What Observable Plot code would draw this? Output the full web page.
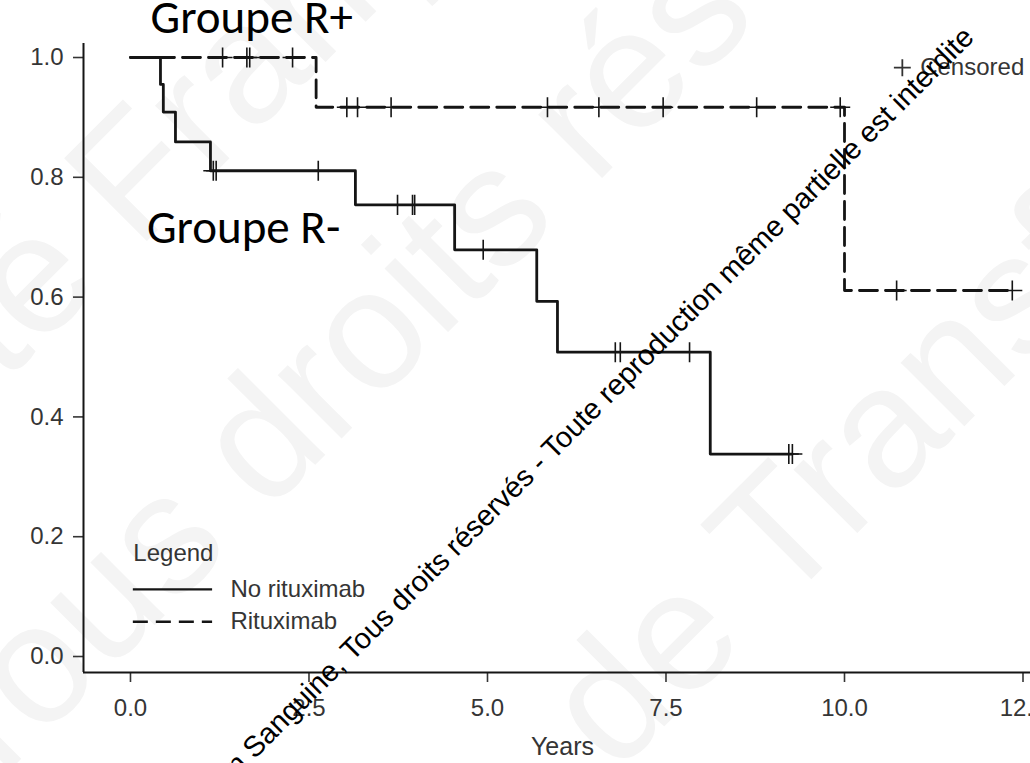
<!DOCTYPE html>
<html>
<head>
<meta charset="utf-8">
<script src="https://cdn.jsdelivr.net/npm/d3@7"></script>
<script src="https://cdn.jsdelivr.net/npm/@observablehq/plot@0.6"></script>
<style>
  html, body { margin: 0; padding: 0; background: #fff; overflow: hidden; }
</style>
</head>
<body>
<div id="chart"></div>
<script>
// ---- Data (Kaplan–Meier estimates) ----
const seriesNames = ["No rituximab", "Rituximab"];

// No rituximab (solid): step points
const noRitTime = [0, 0.42, 0.46, 0.63, 1.12, 3.15, 4.54, 5.69, 5.98, 8.12, 9.27];
const noRitSurv = [1.0, 0.955, 0.909, 0.859, 0.811, 0.754, 0.679, 0.593, 0.508, 0.338, 0.338];
// No rituximab censored observations
const noRitCensTime = [1.16, 1.20, 2.63, 3.74, 3.95, 3.98, 4.94, 6.79, 6.86, 7.83, 9.22, 9.27];
const noRitCensSurv = [0.811, 0.811, 0.811, 0.754, 0.754, 0.754, 0.679, 0.508, 0.508, 0.508, 0.338, 0.338];

// Rituximab (dashed): step points
const ritTime = [0, 2.60, 10.0, 12.35];
const ritSurv = [1.0, 0.917, 0.611, 0.611];
// Rituximab censored observations
const ritCensTime = [1.29, 1.63, 1.67, 2.27, 3.03, 3.18, 3.65, 5.84, 6.56, 7.46, 8.77, 9.94, 10.73, 12.35];
const ritCensSurv = [1.0, 1.0, 1.0, 1.0, 0.917, 0.917, 0.917, 0.917, 0.917, 0.917, 0.917, 0.917, 0.611, 0.611];

// Axis ticks
const xTicks = [0, 2.5, 5, 7.5, 10, 12.5];
const yTicks = [0, 0.2, 0.4, 0.6, 0.8, 1.0];

// Annotation texts
const groupLabels = ["Groupe R+", "Groupe R-"];
const censoredLabel = "Censored";
const legendTitle = "Legend";
const xLabel = "Years";
const watermarkLines = ["Société Française", "Tous droits réservés", "de Transfusion"];
const diagonalNotice = "© Société Française de Transfusion Sanguine, Tous droits réservés - Toute reproduction même partielle est interdite";

// ---- Tables built from the arrays ----
const noRit = noRitTime.map((t, i) => ({t, s: noRitSurv[i]}));
const rit = ritTime.map((t, i) => ({t, s: ritSurv[i]}));
const noRitCens = noRitCensTime.map((t, i) => ({t, s: noRitCensSurv[i]}));
const ritCens = ritCensTime.map((t, i) => ({t, s: ritCensSurv[i]}));

const xMin = -0.658, xMax = 12.605;
const yMin = -0.0267, yMax = 1.0234;
const ink = "#151515";
const sans = "'Liberation Sans', Arial, Helvetica, sans-serif";
const calibriLike = "Carlito, Calibri, Lato, sans-serif";
const dash = "18,8";
const wm = "#f4f4f4";

const chart = Plot.plot({
  width: 1030,
  height: 763,
  marginLeft: 83,
  marginRight: 0,
  marginTop: 43,
  marginBottom: 91,
  x: {domain: [xMin, xMax]},
  y: {domain: [yMin, yMax]},
  style: {fontFamily: sans, color: "#353535", background: "#fff", overflow: "visible"},
  marks: [
    // faint background watermark
    Plot.text([watermarkLines[0]], {x: -6.53, y: 0.0167, text: d => d, rotate: -45, textAnchor: "start", fontSize: 170, fill: wm, fontFamily: sans}),
    Plot.text([watermarkLines[1]], {x: -2.66, y: -0.177, text: d => d, rotate: -45, textAnchor: "start", fontSize: 170, fill: wm, fontFamily: sans}),
    Plot.text([watermarkLines[2]], {x: 6.25, y: -0.134, text: d => d, rotate: -45, textAnchor: "start", fontSize: 170, fill: wm, fontFamily: sans}),

    // axes
    Plot.axisY({ticks: yTicks, tickFormat: d3.format(".1f"), tickSize: 10, tickPadding: 10, fontSize: 24, strokeWidth: 1.6, label: null}),
    Plot.axisX({ticks: xTicks, tickFormat: d3.format(".1f"), tickSize: 10, tickPadding: 16, fontSize: 24, strokeWidth: 1.6, label: null}),
    Plot.ruleX([xMin], {stroke: ink, strokeWidth: 2}),
    Plot.ruleY([yMin], {stroke: ink, strokeWidth: 2}),
    Plot.text([xLabel], {x: 6.05, y: yMin, text: d => d, dy: 74, fontSize: 25, fill: "#353535"}),

    // survival curves
    Plot.line(noRit, {x: "t", y: "s", curve: "step-after", stroke: ink, strokeWidth: 2.8}),
    Plot.line(rit, {x: "t", y: "s", curve: "step-after", stroke: ink, strokeWidth: 2.8, strokeDasharray: dash}),
    Plot.dot(noRitCens, {x: "t", y: "s", symbol: "plus", r: 6.5, stroke: ink, strokeWidth: 1.6}),
    Plot.dot(ritCens, {x: "t", y: "s", symbol: "plus", r: 6.5, stroke: ink, strokeWidth: 1.6}),

    // censored key (top right)
    Plot.dot([censoredLabel], {x: 10.81, y: 0.983, symbol: "plus", r: 5.5, stroke: "#333", strokeWidth: 1.8}),
    Plot.text([censoredLabel], {x: 11.06, y: 0.983, text: d => d, textAnchor: "start", fontSize: 24, fill: "#353535"}),

    // legend (bottom left)
    Plot.text([legendTitle], {x: 0.04, y: 0.172, text: d => d, textAnchor: "start", fontSize: 24, fill: "#353535"}),
    Plot.ruleY([0.112], {x1: 0.04, x2: 1.15, stroke: ink, strokeWidth: 2.4}),
    Plot.ruleY([0.058], {x1: 0.04, x2: 1.15, stroke: ink, strokeWidth: 2.4, strokeDasharray: "15,8"}),
    Plot.text([seriesNames[0]], {x: 1.40, y: 0.112, text: d => d, textAnchor: "start", fontSize: 24, fill: "#353535"}),
    Plot.text([seriesNames[1]], {x: 1.40, y: 0.058, text: d => d, textAnchor: "start", fontSize: 24, fill: "#353535"}),

    // group labels
    Plot.text([groupLabels[0]], {x: 0.28, y: 1.066, text: d => d, textAnchor: "start", fontSize: 47, fill: "#000", fontFamily: calibriLike}),
    Plot.text([groupLabels[1]], {x: 0.23, y: 0.716, text: d => d, textAnchor: "start", fontSize: 47, fill: "#000", fontFamily: calibriLike}),

    // diagonal copyright notice
    Plot.text([diagonalNotice], {x: 11.74, y: 1.042, text: d => d, rotate: -45, textAnchor: "end", fontSize: 29, fill: "#000", fontFamily: sans})
  ]
});
document.getElementById("chart").appendChild(chart);
</script>
</body>
</html>
